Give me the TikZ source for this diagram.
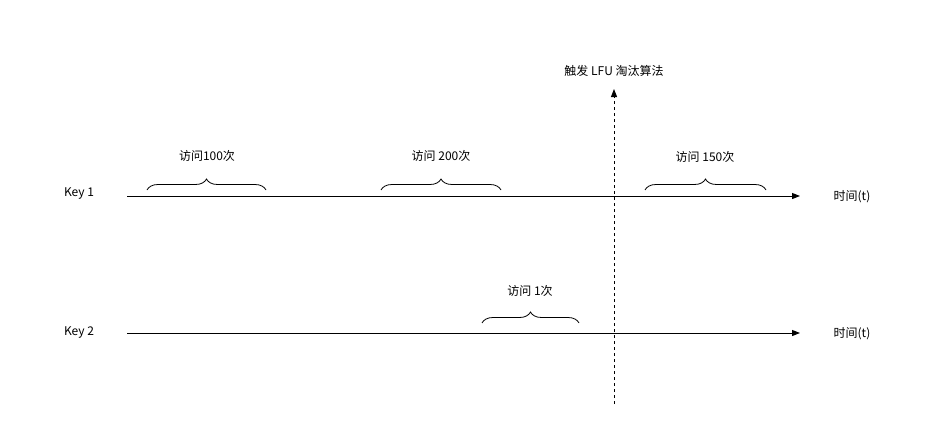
\documentclass[tikz,border=0pt]{standalone}
\usepackage{fontspec}
\setmainfont{Noto Sans CJK SC}
\usetikzlibrary{arrows.meta,decorations.pathreplacing}
\begin{document}
\begin{tikzpicture}[x=1pt,y=-1pt,
  every node/.style={font=\fontsize{12}{14}\selectfont, text=black},
  axis/.style={line width=1pt, -{Triangle[length=8pt,width=6pt]}},
  trig/.style={line width=1pt, dashed, dash pattern=on 3pt off 3pt, -{Triangle[length=8pt,width=6pt]}},
  brc/.style={decorate, decoration={brace, amplitude=11pt}, line width=0.8pt}]
\useasboundingbox (0,0) rectangle (926,444);
\node (k1) at (79,194) {Key 1};
\node (k2) at (79,333) {Key 2};
\coordinate (a1s) at (127,196);
\coordinate (a1e) at (800,196);
\coordinate (a2s) at (127,333);
\coordinate (a2e) at (800,333);
\draw[axis] (a1s) -- (a1e);
\draw[axis] (a2s) -- (a2e);
\node (t1) at (852,197) {时间(t)};
\node (t2) at (852,334) {时间(t)};
\coordinate (tb) at (614,404);
\coordinate (tt) at (614,89);
\draw[trig] (tb) -- (tt);
\node (trg) at (614,71) {触发 LFU 淘汰算法};
\coordinate (b1l) at (147,190); \coordinate (b1r) at (266,190);
\coordinate (b2l) at (381,190); \coordinate (b2r) at (501,190);
\coordinate (b3l) at (645,190); \coordinate (b3r) at (766,190);
\coordinate (b4l) at (482,323); \coordinate (b4r) at (579,323);
\draw[brc] (b1l) -- (b1r);
\draw[brc] (b2l) -- (b2r);
\draw[brc] (b3l) -- (b3r);
\draw[brc] (b4l) -- (b4r);
\node (l1) at (207,156) {访问100次};
\node (l2) at (441,156) {访问 200次};
\node (l3) at (705,157) {访问 150次};
\node (l4) at (530,291) {访问 1次};
\end{tikzpicture}
\end{document}
